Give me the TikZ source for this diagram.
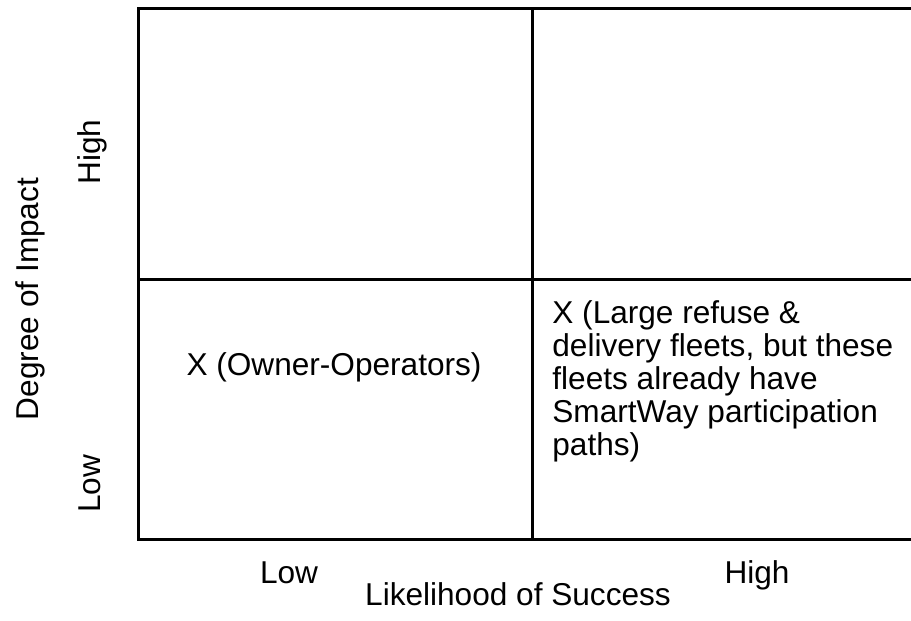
\documentclass[tikz,border=0pt]{standalone}
\usepackage{fontspec}
\setmainfont{Liberation Sans}
\usetikzlibrary{positioning}
\tikzset{
  txt/.style={font=\fontsize{15.8}{16.5}\selectfont, inner sep=0pt},
  gridline/.style={line width=1.5pt, line cap=rect}
}

\begin{document}
\begin{tikzpicture}[x=0.5pt,y=-0.5pt]
    \useasboundingbox (0,0) rectangle (911,621);

    % Griglia 2x2
    \coordinate (tl) at (138,8);
    \coordinate (tr) at (911,8);
    \coordinate (bl) at (138,539);
    \coordinate (br) at (911,539);
    \coordinate (tm) at (532,8);
    \coordinate (bm) at (532,539);
    \coordinate (ml) at (138,279);
    \coordinate (mr) at (911,279);
    \draw[gridline] (tr) -- (tl) -- (bl) -- (br);
    \draw[gridline] (tm) -- (bm);
    \draw[gridline] (ml) -- (mr);

    % Quadranti
    \node[txt,anchor=base] (owner) at (334,375) {X (Owner-Operators)};
    \node[txt,anchor=north west,align=left] (fleets) at (552,300)
        {X (Large refuse \&\\delivery fleets, but these\\fleets already have\\SmartWay participation\\paths)};

    % Asse verticale
    \node[txt,rotate=90,anchor=base] (yhigh) at (100,152) {High};
    \node[txt,rotate=90,anchor=base] (ylow) at (100,484) {Low};
    \node[txt,rotate=90,anchor=base] (ytitle) at (39,299) {Degree of Impact};

    % Asse orizzontale
    \node[txt,anchor=base] (xlow) at (289,583) {Low};
    \node[txt,anchor=base] (xhigh) at (757,583) {High};
    \node[txt,anchor=base] (xtitle) at (518,605) {Likelihood of Success};
\end{tikzpicture}
\end{document}
